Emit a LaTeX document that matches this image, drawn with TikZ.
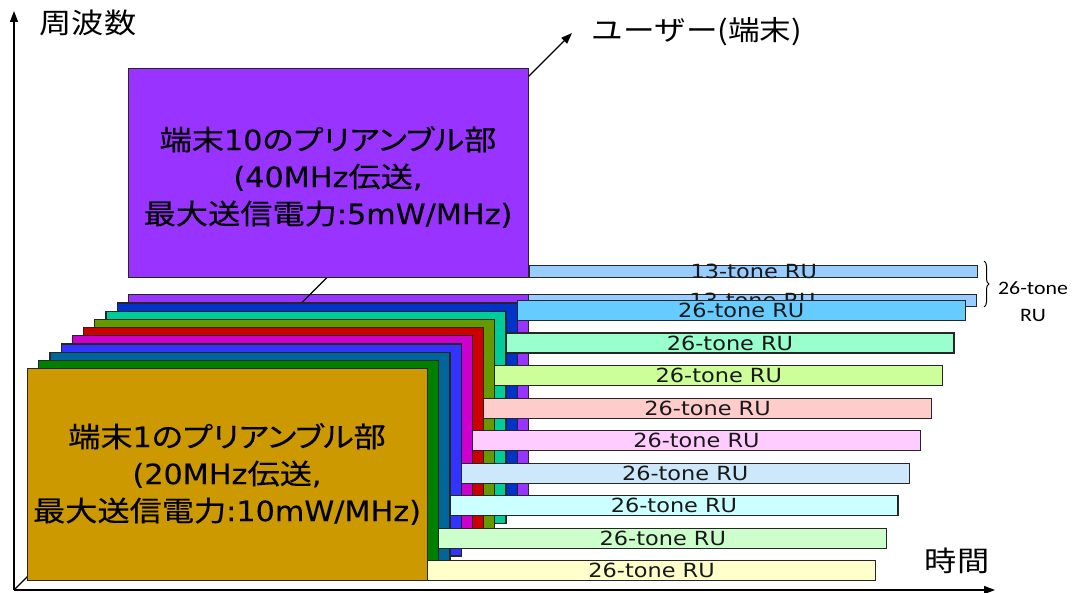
\documentclass[tikz,border=0pt]{standalone}
\usepackage{fontspec}
\usetikzlibrary{arrows.meta,decorations.pathreplacing}
\newfontfamily\jp[FakeStretch=1.15]{Noto Sans CJK JP}
\newfontfamily\jpp[FakeStretch=1.15,RawFeature=+palt,FakeBold=0.4]{Noto Sans CJK JP}
\newfontfamily\lat[FakeStretch=1.15]{DejaVu Sans}
\newfontfamily\latb[FakeStretch=1.08,FakeBold=0.3]{DejaVu Sans}
\newfontfamily\calfont[FakeStretch=1.15]{Carlito}
\newcommand\J[1]{{\jpp #1}}
\newcommand\La[1]{{\latb #1}}
\definecolor{cGold}{RGB}{204,153,0}
\definecolor{cGreen}{RGB}{0,128,0}
\definecolor{cSteel}{RGB}{0,102,153}
\definecolor{cBlue}{RGB}{51,51,255}
\definecolor{cMag}{RGB}{204,0,204}
\definecolor{cRed}{RGB}{204,0,0}
\definecolor{cOlive}{RGB}{102,153,0}
\definecolor{cTurq}{RGB}{0,204,153}
\definecolor{cRoyal}{RGB}{0,51,204}
\definecolor{cPurple}{RGB}{153,51,255}
\definecolor{b0}{RGB}{255,255,204}
\definecolor{b1}{RGB}{204,255,204}
\definecolor{b2}{RGB}{204,255,255}
\definecolor{b3}{RGB}{204,232,250}
\definecolor{b4}{RGB}{255,204,255}
\definecolor{b5}{RGB}{255,204,204}
\definecolor{b6}{RGB}{204,255,153}
\definecolor{b7}{RGB}{153,255,204}
\definecolor{b8}{RGB}{102,204,255}
\definecolor{b9}{RGB}{153,204,255}
\begin{document}
\begin{tikzpicture}[x=1pt,y=-1pt,
  edge/.style={draw=black!85,line width=1.2pt},
  layer/.style={edge,anchor=north west,inner sep=0pt,minimum width=400pt,minimum height=212pt},
  rubar/.style={edge,anchor=north west,inner sep=0pt,minimum width=448pt,minimum height=20pt},
  thinbar/.style={rubar,minimum height=12pt},
  rutext/.style={inner sep=0pt,font=\lat\fontsize{19.5}{19.5}\selectfont,text=black!90},
  boxtext/.style={align=center,inner sep=0pt,font=\fontsize{28}{37}\selectfont,text=black},
  axis/.style={line width=1.2pt,-{Triangle[length=11pt,width=8pt]}},
  jplabel/.style={inner sep=0pt,font=\jp\fontsize{28}{28}\selectfont}]
\useasboundingbox (0,0) rectangle (1073,593);
\fill[white] (0,0) rectangle (1073,593);
% back layer of user 10 and its 13-tone RU
\node[layer,fill=cPurple] (L9) at ({27+11.2*9},{368-8.2*9}) {};
\node[thinbar,fill=b9] (B9) at ({427+11.2*9},{368-8.2*9}) {};
\node[rutext] (R9) at (B9.center) {13-tone RU};
% user axis
\coordinate (O) at (14,590);
\coordinate (U) at (572,33);
\draw[axis] (O) -- (U);
% stacked preamble layers and 26-tone RUs
\foreach \k/\c/\b in {8/cRoyal/b8,7/cTurq/b7,6/cOlive/b6,5/cRed/b5,4/cMag/b4,3/cBlue/b3,2/cSteel/b2,1/cGreen/b1,0/cGold/b0}{
  \node[layer,fill=\c] (L\k) at ({27+11.2*\k},{368-8.2*\k}) {};
  \node[rubar,fill=\b] (B\k) at ({427+11.2*\k},{560-32.5*\k}) {};
  \node[rutext] (R\k) at (B\k.center) {26-tone RU};
}
\node[boxtext] (T1) at (227,474) {\J{端末}\La{1}\J{のプリアンブル部}\\\La{(20MHz}\J{伝送}\La{,}\\\J{最大送信電力}\La{:10mW/MHz)}};
% exploded user 10 preamble
\node[layer,fill=cPurple,minimum height=209pt] (P) at (128,68) {};
\node[thinbar,fill=b9,anchor=south west] (B10) at (P.south east) {};
\node[rutext] (R10) at (B10.center) {13-tone RU};
\node[boxtext] (T10) at (328,177) {\J{端末}\La{10}\J{のプリアンブル部}\\\La{(40MHz}\J{伝送}\La{,}\\\J{最大送信電力}\La{:5mW/MHz)}};
% axes
\coordinate (F) at (14,11);
\coordinate (T) at (995,590);
\draw[axis] (O) -- (F);
\draw[axis] (O) -- (T);
\node[jplabel] (freq) at (88,23) {周波数};
\node[jplabel] (time) at (957,561) {時間};
\node[jplabel,font=\jp\fontsize{27.5}{27.5}\selectfont] (user) at (697,32) {ユーザー(端末)};
% brace
\coordinate (br1) at (984,261);
\coordinate (br2) at (984,307);
\draw[decorate,decoration={brace,amplitude=5pt},line width=1pt] (br1) -- (br2);
\node[align=center,inner sep=0pt,font=\calfont\fontsize{19}{27}\selectfont] (lbl) at (1033,302) {26-tone\\RU};
\end{tikzpicture}
\end{document}
